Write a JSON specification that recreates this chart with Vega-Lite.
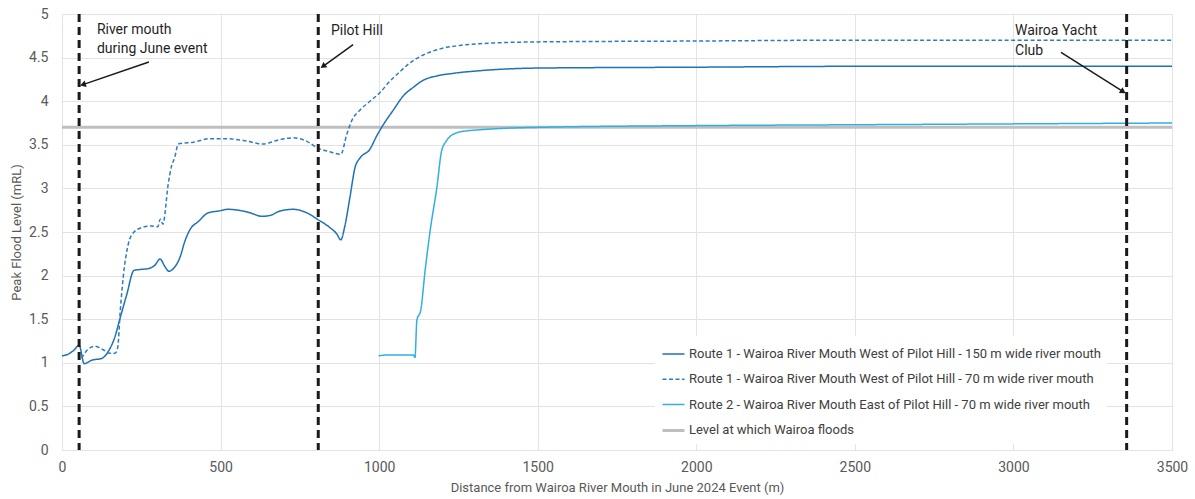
{
  "$schema": "https://vega.github.io/schema/vega-lite/v6.json",
  "width": 1110,
  "height": 436,
  "autosize": {"type": "none"},
  "padding": {"left": 62, "top": 14, "right": 23, "bottom": 49},
  "background": "white",
  "datasets": {
    "profiles": [
      {"series": "Level at which Wairoa floods", "d": 0, "level": 3.7},
      {"series": "Level at which Wairoa floods", "d": 3500, "level": 3.7},

      {"series": "Route 1 - Wairoa River Mouth West of Pilot Hill - 150 m wide river mouth", "d": 0, "level": 1.08},
      {"series": "Route 1 - Wairoa River Mouth West of Pilot Hill - 150 m wide river mouth", "d": 20, "level": 1.10},
      {"series": "Route 1 - Wairoa River Mouth West of Pilot Hill - 150 m wide river mouth", "d": 36, "level": 1.14},
      {"series": "Route 1 - Wairoa River Mouth West of Pilot Hill - 150 m wide river mouth", "d": 54, "level": 1.20},
      {"series": "Route 1 - Wairoa River Mouth West of Pilot Hill - 150 m wide river mouth", "d": 70, "level": 0.99},
      {"series": "Route 1 - Wairoa River Mouth West of Pilot Hill - 150 m wide river mouth", "d": 94, "level": 1.03},
      {"series": "Route 1 - Wairoa River Mouth West of Pilot Hill - 150 m wide river mouth", "d": 125, "level": 1.05},
      {"series": "Route 1 - Wairoa River Mouth West of Pilot Hill - 150 m wide river mouth", "d": 146, "level": 1.13},
      {"series": "Route 1 - Wairoa River Mouth West of Pilot Hill - 150 m wide river mouth", "d": 167, "level": 1.30},
      {"series": "Route 1 - Wairoa River Mouth West of Pilot Hill - 150 m wide river mouth", "d": 183, "level": 1.51},
      {"series": "Route 1 - Wairoa River Mouth West of Pilot Hill - 150 m wide river mouth", "d": 204, "level": 1.78},
      {"series": "Route 1 - Wairoa River Mouth West of Pilot Hill - 150 m wide river mouth", "d": 227, "level": 2.06},
      {"series": "Route 1 - Wairoa River Mouth West of Pilot Hill - 150 m wide river mouth", "d": 246, "level": 2.07},
      {"series": "Route 1 - Wairoa River Mouth West of Pilot Hill - 150 m wide river mouth", "d": 272, "level": 2.08},
      {"series": "Route 1 - Wairoa River Mouth West of Pilot Hill - 150 m wide river mouth", "d": 293, "level": 2.12},
      {"series": "Route 1 - Wairoa River Mouth West of Pilot Hill - 150 m wide river mouth", "d": 309, "level": 2.19},
      {"series": "Route 1 - Wairoa River Mouth West of Pilot Hill - 150 m wide river mouth", "d": 325, "level": 2.10},
      {"series": "Route 1 - Wairoa River Mouth West of Pilot Hill - 150 m wide river mouth", "d": 337, "level": 2.05},
      {"series": "Route 1 - Wairoa River Mouth West of Pilot Hill - 150 m wide river mouth", "d": 351, "level": 2.08},
      {"series": "Route 1 - Wairoa River Mouth West of Pilot Hill - 150 m wide river mouth", "d": 372, "level": 2.21},
      {"series": "Route 1 - Wairoa River Mouth West of Pilot Hill - 150 m wide river mouth", "d": 388, "level": 2.40},
      {"series": "Route 1 - Wairoa River Mouth West of Pilot Hill - 150 m wide river mouth", "d": 404, "level": 2.53},
      {"series": "Route 1 - Wairoa River Mouth West of Pilot Hill - 150 m wide river mouth", "d": 430, "level": 2.62},
      {"series": "Route 1 - Wairoa River Mouth West of Pilot Hill - 150 m wide river mouth", "d": 461, "level": 2.72},
      {"series": "Route 1 - Wairoa River Mouth West of Pilot Hill - 150 m wide river mouth", "d": 493, "level": 2.74},
      {"series": "Route 1 - Wairoa River Mouth West of Pilot Hill - 150 m wide river mouth", "d": 524, "level": 2.76},
      {"series": "Route 1 - Wairoa River Mouth West of Pilot Hill - 150 m wide river mouth", "d": 556, "level": 2.75},
      {"series": "Route 1 - Wairoa River Mouth West of Pilot Hill - 150 m wide river mouth", "d": 593, "level": 2.72},
      {"series": "Route 1 - Wairoa River Mouth West of Pilot Hill - 150 m wide river mouth", "d": 630, "level": 2.68},
      {"series": "Route 1 - Wairoa River Mouth West of Pilot Hill - 150 m wide river mouth", "d": 656, "level": 2.69},
      {"series": "Route 1 - Wairoa River Mouth West of Pilot Hill - 150 m wide river mouth", "d": 687, "level": 2.74},
      {"series": "Route 1 - Wairoa River Mouth West of Pilot Hill - 150 m wide river mouth", "d": 729, "level": 2.76},
      {"series": "Route 1 - Wairoa River Mouth West of Pilot Hill - 150 m wide river mouth", "d": 772, "level": 2.72},
      {"series": "Route 1 - Wairoa River Mouth West of Pilot Hill - 150 m wide river mouth", "d": 808, "level": 2.64},
      {"series": "Route 1 - Wairoa River Mouth West of Pilot Hill - 150 m wide river mouth", "d": 845, "level": 2.55},
      {"series": "Route 1 - Wairoa River Mouth West of Pilot Hill - 150 m wide river mouth", "d": 866, "level": 2.48},
      {"series": "Route 1 - Wairoa River Mouth West of Pilot Hill - 150 m wide river mouth", "d": 879, "level": 2.41},
      {"series": "Route 1 - Wairoa River Mouth West of Pilot Hill - 150 m wide river mouth", "d": 892, "level": 2.57},
      {"series": "Route 1 - Wairoa River Mouth West of Pilot Hill - 150 m wide river mouth", "d": 908, "level": 2.90},
      {"series": "Route 1 - Wairoa River Mouth West of Pilot Hill - 150 m wide river mouth", "d": 924, "level": 3.24},
      {"series": "Route 1 - Wairoa River Mouth West of Pilot Hill - 150 m wide river mouth", "d": 940, "level": 3.35},
      {"series": "Route 1 - Wairoa River Mouth West of Pilot Hill - 150 m wide river mouth", "d": 971, "level": 3.45},
      {"series": "Route 1 - Wairoa River Mouth West of Pilot Hill - 150 m wide river mouth", "d": 992, "level": 3.60},
      {"series": "Route 1 - Wairoa River Mouth West of Pilot Hill - 150 m wide river mouth", "d": 1013, "level": 3.73},
      {"series": "Route 1 - Wairoa River Mouth West of Pilot Hill - 150 m wide river mouth", "d": 1045, "level": 3.90},
      {"series": "Route 1 - Wairoa River Mouth West of Pilot Hill - 150 m wide river mouth", "d": 1076, "level": 4.06},
      {"series": "Route 1 - Wairoa River Mouth West of Pilot Hill - 150 m wide river mouth", "d": 1108, "level": 4.16},
      {"series": "Route 1 - Wairoa River Mouth West of Pilot Hill - 150 m wide river mouth", "d": 1139, "level": 4.24},
      {"series": "Route 1 - Wairoa River Mouth West of Pilot Hill - 150 m wide river mouth", "d": 1182, "level": 4.29},
      {"series": "Route 1 - Wairoa River Mouth West of Pilot Hill - 150 m wide river mouth", "d": 1234, "level": 4.32},
      {"series": "Route 1 - Wairoa River Mouth West of Pilot Hill - 150 m wide river mouth", "d": 1318, "level": 4.35},
      {"series": "Route 1 - Wairoa River Mouth West of Pilot Hill - 150 m wide river mouth", "d": 1500, "level": 4.38},
      {"series": "Route 1 - Wairoa River Mouth West of Pilot Hill - 150 m wide river mouth", "d": 2000, "level": 4.39},
      {"series": "Route 1 - Wairoa River Mouth West of Pilot Hill - 150 m wide river mouth", "d": 2500, "level": 4.40},
      {"series": "Route 1 - Wairoa River Mouth West of Pilot Hill - 150 m wide river mouth", "d": 3000, "level": 4.40},
      {"series": "Route 1 - Wairoa River Mouth West of Pilot Hill - 150 m wide river mouth", "d": 3500, "level": 4.40},

      {"series": "Route 1 - Wairoa River Mouth West of Pilot Hill - 70 m wide river mouth", "d": 62, "level": 1.05},
      {"series": "Route 1 - Wairoa River Mouth West of Pilot Hill - 70 m wide river mouth", "d": 78, "level": 1.14},
      {"series": "Route 1 - Wairoa River Mouth West of Pilot Hill - 70 m wide river mouth", "d": 104, "level": 1.19},
      {"series": "Route 1 - Wairoa River Mouth West of Pilot Hill - 70 m wide river mouth", "d": 130, "level": 1.15},
      {"series": "Route 1 - Wairoa River Mouth West of Pilot Hill - 70 m wide river mouth", "d": 151, "level": 1.11},
      {"series": "Route 1 - Wairoa River Mouth West of Pilot Hill - 70 m wide river mouth", "d": 167, "level": 1.11},
      {"series": "Route 1 - Wairoa River Mouth West of Pilot Hill - 70 m wide river mouth", "d": 176, "level": 1.18},
      {"series": "Route 1 - Wairoa River Mouth West of Pilot Hill - 70 m wide river mouth", "d": 183, "level": 1.56},
      {"series": "Route 1 - Wairoa River Mouth West of Pilot Hill - 70 m wide river mouth", "d": 193, "level": 1.98},
      {"series": "Route 1 - Wairoa River Mouth West of Pilot Hill - 70 m wide river mouth", "d": 209, "level": 2.36},
      {"series": "Route 1 - Wairoa River Mouth West of Pilot Hill - 70 m wide river mouth", "d": 227, "level": 2.50},
      {"series": "Route 1 - Wairoa River Mouth West of Pilot Hill - 70 m wide river mouth", "d": 251, "level": 2.55},
      {"series": "Route 1 - Wairoa River Mouth West of Pilot Hill - 70 m wide river mouth", "d": 283, "level": 2.57},
      {"series": "Route 1 - Wairoa River Mouth West of Pilot Hill - 70 m wide river mouth", "d": 302, "level": 2.56},
      {"series": "Route 1 - Wairoa River Mouth West of Pilot Hill - 70 m wide river mouth", "d": 310, "level": 2.65},
      {"series": "Route 1 - Wairoa River Mouth West of Pilot Hill - 70 m wide river mouth", "d": 318, "level": 2.59},
      {"series": "Route 1 - Wairoa River Mouth West of Pilot Hill - 70 m wide river mouth", "d": 335, "level": 3.05},
      {"series": "Route 1 - Wairoa River Mouth West of Pilot Hill - 70 m wide river mouth", "d": 345, "level": 3.25},
      {"series": "Route 1 - Wairoa River Mouth West of Pilot Hill - 70 m wide river mouth", "d": 355, "level": 3.35},
      {"series": "Route 1 - Wairoa River Mouth West of Pilot Hill - 70 m wide river mouth", "d": 367, "level": 3.51},
      {"series": "Route 1 - Wairoa River Mouth West of Pilot Hill - 70 m wide river mouth", "d": 414, "level": 3.53},
      {"series": "Route 1 - Wairoa River Mouth West of Pilot Hill - 70 m wide river mouth", "d": 467, "level": 3.57},
      {"series": "Route 1 - Wairoa River Mouth West of Pilot Hill - 70 m wide river mouth", "d": 519, "level": 3.57},
      {"series": "Route 1 - Wairoa River Mouth West of Pilot Hill - 70 m wide river mouth", "d": 572, "level": 3.55},
      {"series": "Route 1 - Wairoa River Mouth West of Pilot Hill - 70 m wide river mouth", "d": 635, "level": 3.51},
      {"series": "Route 1 - Wairoa River Mouth West of Pilot Hill - 70 m wide river mouth", "d": 677, "level": 3.55},
      {"series": "Route 1 - Wairoa River Mouth West of Pilot Hill - 70 m wide river mouth", "d": 729, "level": 3.58},
      {"series": "Route 1 - Wairoa River Mouth West of Pilot Hill - 70 m wide river mouth", "d": 772, "level": 3.54},
      {"series": "Route 1 - Wairoa River Mouth West of Pilot Hill - 70 m wide river mouth", "d": 808, "level": 3.46},
      {"series": "Route 1 - Wairoa River Mouth West of Pilot Hill - 70 m wide river mouth", "d": 845, "level": 3.42},
      {"series": "Route 1 - Wairoa River Mouth West of Pilot Hill - 70 m wide river mouth", "d": 879, "level": 3.39},
      {"series": "Route 1 - Wairoa River Mouth West of Pilot Hill - 70 m wide river mouth", "d": 898, "level": 3.62},
      {"series": "Route 1 - Wairoa River Mouth West of Pilot Hill - 70 m wide river mouth", "d": 914, "level": 3.78},
      {"series": "Route 1 - Wairoa River Mouth West of Pilot Hill - 70 m wide river mouth", "d": 940, "level": 3.90},
      {"series": "Route 1 - Wairoa River Mouth West of Pilot Hill - 70 m wide river mouth", "d": 971, "level": 4.00},
      {"series": "Route 1 - Wairoa River Mouth West of Pilot Hill - 70 m wide river mouth", "d": 1003, "level": 4.10},
      {"series": "Route 1 - Wairoa River Mouth West of Pilot Hill - 70 m wide river mouth", "d": 1034, "level": 4.23},
      {"series": "Route 1 - Wairoa River Mouth West of Pilot Hill - 70 m wide river mouth", "d": 1066, "level": 4.34},
      {"series": "Route 1 - Wairoa River Mouth West of Pilot Hill - 70 m wide river mouth", "d": 1097, "level": 4.44},
      {"series": "Route 1 - Wairoa River Mouth West of Pilot Hill - 70 m wide river mouth", "d": 1139, "level": 4.53},
      {"series": "Route 1 - Wairoa River Mouth West of Pilot Hill - 70 m wide river mouth", "d": 1192, "level": 4.60},
      {"series": "Route 1 - Wairoa River Mouth West of Pilot Hill - 70 m wide river mouth", "d": 1255, "level": 4.64},
      {"series": "Route 1 - Wairoa River Mouth West of Pilot Hill - 70 m wide river mouth", "d": 1318, "level": 4.66},
      {"series": "Route 1 - Wairoa River Mouth West of Pilot Hill - 70 m wide river mouth", "d": 1500, "level": 4.68},
      {"series": "Route 1 - Wairoa River Mouth West of Pilot Hill - 70 m wide river mouth", "d": 2000, "level": 4.69},
      {"series": "Route 1 - Wairoa River Mouth West of Pilot Hill - 70 m wide river mouth", "d": 2500, "level": 4.70},
      {"series": "Route 1 - Wairoa River Mouth West of Pilot Hill - 70 m wide river mouth", "d": 3000, "level": 4.70},
      {"series": "Route 1 - Wairoa River Mouth West of Pilot Hill - 70 m wide river mouth", "d": 3500, "level": 4.70},

      {"series": "Route 2 - Wairoa River Mouth East of Pilot Hill - 70 m wide river mouth", "d": 998, "level": 1.08},
      {"series": "Route 2 - Wairoa River Mouth East of Pilot Hill - 70 m wide river mouth", "d": 1024, "level": 1.09},
      {"series": "Route 2 - Wairoa River Mouth East of Pilot Hill - 70 m wide river mouth", "d": 1108, "level": 1.09},
      {"series": "Route 2 - Wairoa River Mouth East of Pilot Hill - 70 m wide river mouth", "d": 1113, "level": 1.06},
      {"series": "Route 2 - Wairoa River Mouth East of Pilot Hill - 70 m wide river mouth", "d": 1119, "level": 1.49},
      {"series": "Route 2 - Wairoa River Mouth East of Pilot Hill - 70 m wide river mouth", "d": 1131, "level": 1.60},
      {"series": "Route 2 - Wairoa River Mouth East of Pilot Hill - 70 m wide river mouth", "d": 1145, "level": 2.06},
      {"series": "Route 2 - Wairoa River Mouth East of Pilot Hill - 70 m wide river mouth", "d": 1161, "level": 2.52},
      {"series": "Route 2 - Wairoa River Mouth East of Pilot Hill - 70 m wide river mouth", "d": 1182, "level": 3.01},
      {"series": "Route 2 - Wairoa River Mouth East of Pilot Hill - 70 m wide river mouth", "d": 1197, "level": 3.43},
      {"series": "Route 2 - Wairoa River Mouth East of Pilot Hill - 70 m wide river mouth", "d": 1213, "level": 3.55},
      {"series": "Route 2 - Wairoa River Mouth East of Pilot Hill - 70 m wide river mouth", "d": 1239, "level": 3.63},
      {"series": "Route 2 - Wairoa River Mouth East of Pilot Hill - 70 m wide river mouth", "d": 1276, "level": 3.66},
      {"series": "Route 2 - Wairoa River Mouth East of Pilot Hill - 70 m wide river mouth", "d": 1308, "level": 3.67},
      {"series": "Route 2 - Wairoa River Mouth East of Pilot Hill - 70 m wide river mouth", "d": 1400, "level": 3.69},
      {"series": "Route 2 - Wairoa River Mouth East of Pilot Hill - 70 m wide river mouth", "d": 1500, "level": 3.70},
      {"series": "Route 2 - Wairoa River Mouth East of Pilot Hill - 70 m wide river mouth", "d": 2000, "level": 3.72},
      {"series": "Route 2 - Wairoa River Mouth East of Pilot Hill - 70 m wide river mouth", "d": 2500, "level": 3.73},
      {"series": "Route 2 - Wairoa River Mouth East of Pilot Hill - 70 m wide river mouth", "d": 3000, "level": 3.74},
      {"series": "Route 2 - Wairoa River Mouth East of Pilot Hill - 70 m wide river mouth", "d": 3500, "level": 3.75}
    ],
    "landmarks": [
      {"place": "River mouth during June event", "d": 54},
      {"place": "Pilot Hill", "d": 808},
      {"place": "Wairoa Yacht Club", "d": 3357}
    ],
    "pointers": [
      {"place": "River mouth during June event", "d": 274, "level": 4.45, "d2": 66, "level2": 4.19},
      {"place": "Pilot Hill", "d": 918, "level": 4.65, "d2": 823, "level2": 4.40},
      {"place": "Wairoa Yacht Club", "d": 3150, "level": 4.56, "d2": 3346, "level2": 4.11}
    ],
    "labels": [
      {"text": "River mouth", "d": 110, "level": 4.82},
      {"text": "during June event", "d": 110, "level": 4.60},
      {"text": "Pilot Hill", "d": 848, "level": 4.80},
      {"text": "Wairoa Yacht", "d": 3005, "level": 4.80},
      {"text": "Club", "d": 3005, "level": 4.58}
    ]
  },
  "config": {
    "font": "Roboto",
    "view": {"stroke": null},
    "axis": {
      "grid": true,
      "gridColor": "#e3e3e3",
      "gridWidth": 1,
      "domain": false,
      "ticks": false,
      "tickSize": 0,
      "labelFlush": false,
      "labelOverlap": false,
      "labelFont": "Roboto",
      "labelFontSize": 14,
      "labelColor": "#595959",
      "titleFont": "Roboto",
      "titleFontSize": 13,
      "titleFontWeight": "normal",
      "titleColor": "#595959"
    },
    "legend": {
      "orient": "none",
      "legendX": 593,
      "legendY": 322,
      "title": null,
      "fillColor": "white",
      "padding": 6,
      "symbolType": "stroke",
      "symbolSize": 484,
      "labelFont": "Roboto",
      "labelFontSize": 13,
      "labelColor": "#404040",
      "labelOffset": 3,
      "labelLimit": 600,
      "rowPadding": 6.3
    }
  },
  "layer": [
    {
      "data": {"name": "profiles"},
      "mark": {"type": "line", "interpolate": "monotone"},
      "encoding": {
        "x": {
          "field": "d",
          "type": "quantitative",
          "scale": {"domain": [0, 3500], "nice": false},
          "axis": {
            "values": [0, 500, 1000, 1500, 2000, 2500, 3000, 3500],
            "format": "d",
            "title": "Distance from Wairoa River Mouth in June 2024 Event (m)",
            "labelPadding": 10,
            "titlePadding": 7
          }
        },
        "y": {
          "field": "level",
          "type": "quantitative",
          "scale": {"domain": [0, 5], "nice": false},
          "axis": {
            "values": [0, 0.5, 1, 1.5, 2, 2.5, 3, 3.5, 4, 4.5, 5],
            "format": ".1~f",
            "title": "Peak Flood Level (mRL)",
            "labelPadding": 14,
            "titlePadding": 5
          }
        },
        "color": {
          "field": "series",
          "type": "nominal",
          "scale": {
            "domain": [
              "Route 1 - Wairoa River Mouth West of Pilot Hill - 150 m wide river mouth",
              "Route 1 - Wairoa River Mouth West of Pilot Hill - 70 m wide river mouth",
              "Route 2 - Wairoa River Mouth East of Pilot Hill - 70 m wide river mouth",
              "Level at which Wairoa floods"
            ],
            "range": ["#1f72b4", "#2f7cbb", "#31afe0", "#bfbfbf"]
          }
        },
        "strokeDash": {
          "field": "series",
          "type": "nominal",
          "scale": {
            "domain": [
              "Route 1 - Wairoa River Mouth West of Pilot Hill - 150 m wide river mouth",
              "Route 1 - Wairoa River Mouth West of Pilot Hill - 70 m wide river mouth",
              "Route 2 - Wairoa River Mouth East of Pilot Hill - 70 m wide river mouth",
              "Level at which Wairoa floods"
            ],
            "range": [[1, 0], [4, 2.5], [1, 0], [1, 0]]
          }
        },
        "strokeWidth": {
          "field": "series",
          "type": "nominal",
          "scale": {
            "type": "ordinal",
            "domain": [
              "Route 1 - Wairoa River Mouth West of Pilot Hill - 150 m wide river mouth",
              "Route 1 - Wairoa River Mouth West of Pilot Hill - 70 m wide river mouth",
              "Route 2 - Wairoa River Mouth East of Pilot Hill - 70 m wide river mouth",
              "Level at which Wairoa floods"
            ],
            "range": [1.5, 1.5, 1.5, 3]
          }
        }
      }
    },
    {
      "data": {"name": "landmarks"},
      "mark": {"type": "rule", "color": "#1a1a1a", "strokeWidth": 3, "strokeDash": [8, 5]},
      "encoding": {
        "x": {"field": "d", "type": "quantitative"}
      }
    },
    {
      "data": {"name": "pointers"},
      "mark": {"type": "rule", "color": "#1a1a1a", "strokeWidth": 1.5},
      "encoding": {
        "x": {"field": "d", "type": "quantitative"},
        "y": {"field": "level", "type": "quantitative"},
        "x2": {"field": "d2"},
        "y2": {"field": "level2"}
      }
    },
    {
      "data": {"name": "pointers"},
      "transform": [{"filter": "datum.place === 'River mouth during June event'"}],
      "mark": {"type": "point", "shape": "triangle-right", "filled": true, "color": "#1a1a1a", "size": 45, "angle": 162, "opacity": 1},
      "encoding": {
        "x": {"field": "d2", "type": "quantitative"},
        "y": {"field": "level2", "type": "quantitative"}
      }
    },
    {
      "data": {"name": "pointers"},
      "transform": [{"filter": "datum.place === 'Pilot Hill'"}],
      "mark": {"type": "point", "shape": "triangle-right", "filled": true, "color": "#1a1a1a", "size": 45, "angle": 144, "opacity": 1},
      "encoding": {
        "x": {"field": "d2", "type": "quantitative"},
        "y": {"field": "level2", "type": "quantitative"}
      }
    },
    {
      "data": {"name": "pointers"},
      "transform": [{"filter": "datum.place === 'Wairoa Yacht Club'"}],
      "mark": {"type": "point", "shape": "triangle-right", "filled": true, "color": "#1a1a1a", "size": 45, "angle": 32, "opacity": 1},
      "encoding": {
        "x": {"field": "d2", "type": "quantitative"},
        "y": {"field": "level2", "type": "quantitative"}
      }
    },
    {
      "data": {"name": "labels"},
      "mark": {"type": "text", "align": "left", "baseline": "middle", "fontSize": 14, "color": "#1f1f1f", "font": "Roboto"},
      "encoding": {
        "x": {"field": "d", "type": "quantitative"},
        "y": {"field": "level", "type": "quantitative"},
        "text": {"field": "text"}
      }
    }
  ]
}
